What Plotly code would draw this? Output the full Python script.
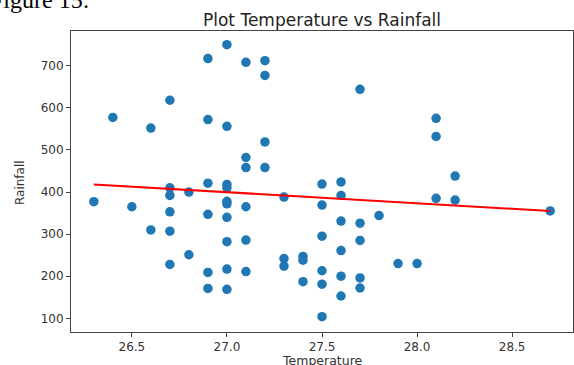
import plotly.graph_objects as go

temperature = [
    26.3, 26.4, 26.5,
    26.6, 26.6,
    26.7, 26.7, 26.7, 26.7, 26.7, 26.7,
    26.8, 26.8,
    26.9, 26.9, 26.9, 26.9, 26.9, 26.9,
    27.0, 27.0, 27.0, 27.0, 27.0, 27.0, 27.0, 27.0, 27.0, 27.0,
    27.1, 27.1, 27.1, 27.1, 27.1, 27.1,
    27.2, 27.2, 27.2, 27.2,
    27.3, 27.3, 27.3,
    27.4, 27.4, 27.4,
    27.5, 27.5, 27.5, 27.5, 27.5, 27.5,
    27.6, 27.6, 27.6, 27.6, 27.6, 27.6,
    27.7, 27.7, 27.7, 27.7, 27.7,
    27.8, 27.9, 28.0,
    28.1, 28.1, 28.1,
    28.2, 28.2,
    28.7,
]
rainfall = [
    377, 577, 365,
    552, 310,
    618, 410, 392, 353, 307, 228,
    400, 251,
    717, 572, 421, 347, 209, 171,
    750, 556, 418, 410, 378, 372, 340, 282, 217, 169,
    708, 482, 458, 365, 286, 211,
    712, 677, 519, 458,
    388, 242, 224,
    247, 238, 187,
    419, 369, 295, 213, 181, 104,
    424, 392, 331, 261, 200, 153,
    644, 326, 285, 196, 172,
    344, 230, 230,
    575, 532, 385,
    438, 381,
    355,
]
trend_x = [26.3, 28.7]
trend_y = [418, 355]

x_ticks = [26.5, 27.0, 27.5, 28.0, 28.5]
x_tick_labels = ["26.5", "27.0", "27.5", "28.0", "28.5"]
y_ticks = [100, 200, 300, 400, 500, 600, 700]

W, H = 574, 365
L, R, T, B = 71, 1, 31, 33
PW, PH = W - L - R, H - T - B

fig = go.Figure()
fig.add_trace(go.Scatter(
    x=temperature, y=rainfall, mode="markers",
    marker=dict(color="#1f77b4", size=9.5, line=dict(width=0)),
    showlegend=False,
))
fig.add_trace(go.Scatter(
    x=trend_x, y=trend_y, mode="lines",
    line=dict(color="red", width=2),
    showlegend=False,
))

font = "DejaVu Sans"
axis_common = dict(
    showgrid=False, zeroline=False, automargin=False,
    showline=True, linecolor="#444", linewidth=1, mirror=True,
    ticks="outside", ticklen=4, tickwidth=1, tickcolor="#444",
    tickfont=dict(family=font, size=12, color="#333"),
)
fig.update_xaxes(range=[26.18, 28.82], tickvals=x_ticks, ticktext=x_tick_labels, **axis_common)
fig.update_yaxes(range=[67.5, 782.5], tickvals=y_ticks, **axis_common)

fig.update_layout(
    width=W, height=H,
    margin=dict(l=L, r=R, t=T, b=B, pad=0),
    paper_bgcolor="white", plot_bgcolor="white",
    title=dict(text="Plot Temperature vs Rainfall", x=(L + PW / 2) / W,
               xanchor="center", y=1 - 20 / H, yanchor="middle",
               font=dict(family=font, size=17, color="#222")),
    annotations=[
        dict(
            text="Figure 15:", xref="paper", yref="paper",
            x=(-12 - L) / PW, xanchor="left",
            y=1 + T / PH, yanchor="middle",
            showarrow=False,
            font=dict(family="Liberation Serif", size=24, color="black"),
        ),
        dict(
            text="Temperature", xref="paper", yref="paper",
            x=0.5, xanchor="center",
            y=-(360 - (T + PH)) / PH, yanchor="middle",
            showarrow=False,
            font=dict(family=font, size=12.5, color="#333"),
        ),
        dict(
            text="Rainfall", xref="paper", yref="paper",
            x=(20 - L) / PW, xanchor="center",
            y=1 - (183 - T) / PH, yanchor="middle", textangle=-90,
            showarrow=False,
            font=dict(family=font, size=12, color="#333"),
        ),
    ],
)

fig.write_html("out.html")
